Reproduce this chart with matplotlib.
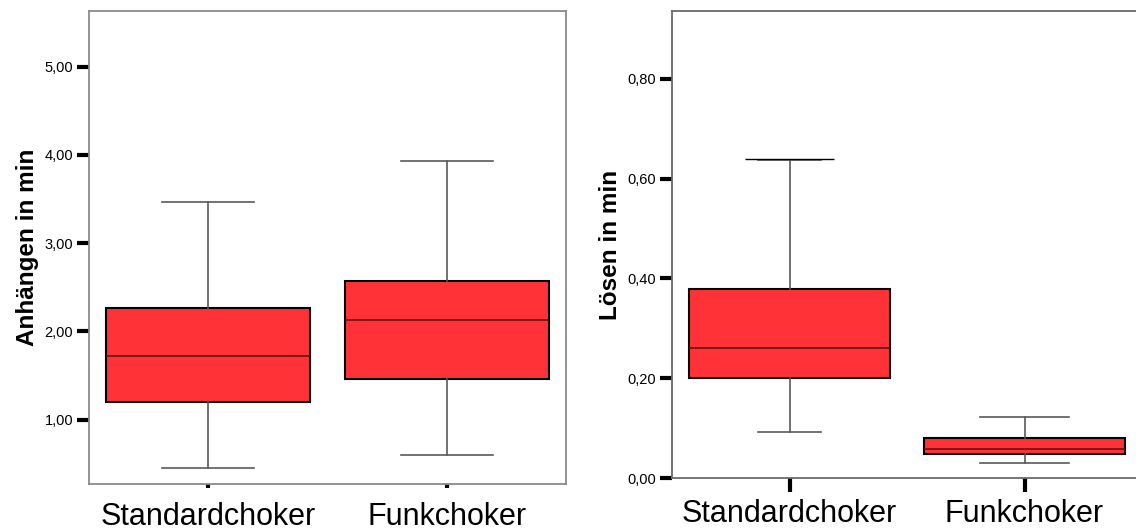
import numpy as np
import matplotlib
matplotlib.use('Agg')
import matplotlib.pyplot as plt
import matplotlib.ticker as ticker

plt.rcParams['font.family'] = ['Liberation Sans', 'DejaVu Sans']

categories = ['Standardchoker', 'Funkchoker']

# Anhängen (left panel)
anh_whislo = [0.455, 0.60]
anh_q1 = [1.20, 1.46]
anh_med = [1.72, 2.13]
anh_q3 = [2.26, 2.57]
anh_whishi = [3.465, 3.93]
anh_yticks = [1, 2, 3, 4, 5]

# Lösen (right panel)
los_whislo = [0.092, 0.030]
los_q1 = [0.200, 0.049]
los_med = [0.261, 0.059]
los_q3 = [0.379, 0.081]
los_whishi = [0.637, 0.122]
los_captop = [0.640, 0.122]
los_yticks = [0.0, 0.2, 0.4, 0.6, 0.8]

box_color = '#ff3337'
whisker_color = '#5a5a5a'

W, H = 1136, 531
fig = plt.figure(figsize=(W / 100, H / 100), dpi=100)

ax1 = fig.add_axes([89 / W, 1 - 484 / H, 477 / W, 473 / H])
ax2 = fig.add_axes([672 / W, 1 - 478 / H, 470 / W, 467 / H])


def comma_fmt(v, pos):
    return ('%.2f' % v).replace('.', ',')


def make_stats(lo, q1, med, q3, hi):
    stats = []
    for i in range(len(categories)):
        stats.append({'whislo': lo[i], 'q1': q1[i], 'med': med[i], 'q3': q3[i],
                      'whishi': hi[i], 'fliers': [], 'label': categories[i]})
    return stats


def draw(ax, stats, capwidths):
    ax.bxp(stats, positions=[1, 2], widths=0.855, patch_artist=True,
           showfliers=False, capwidths=capwidths,
           boxprops=dict(facecolor=box_color, edgecolor='black', linewidth=1.5),
           medianprops=dict(color='#6a1214', linewidth=1.2),
           whiskerprops=dict(color=whisker_color, linewidth=1.2),
           capprops=dict(color=whisker_color, linewidth=1.2))
    ax.set_xlim(0.5, 2.5)
    ax.yaxis.set_major_formatter(ticker.FuncFormatter(comma_fmt))
    ax.tick_params(axis='y', length=9, width=3, pad=2.5, labelsize=10.5)
    ax.set_xticks([1, 2], categories)
    for s in ax.spines.values():
        s.set_color('#8a8a8a')
        s.set_linewidth(1.3)


draw(ax1, make_stats(anh_whislo, anh_q1, anh_med, anh_q3, anh_whishi), [0.387, 0.387])
ax1.set_ylim(0.27, 5.63)
ax1.set_yticks(anh_yticks)
ax1.tick_params(axis='x', length=3, width=3, pad=10, labelsize=22)
ax1.set_ylabel('Anhängen in min', fontsize=17.5, fontweight='bold', labelpad=4)

draw(ax2, make_stats(los_whislo, los_q1, los_med, los_q3, los_whishi), [0.27, 0.38])
ax2.hlines(los_captop[0], 1 - 0.19, 1 + 0.19, color='black', linewidth=1.0)
ax2.set_ylim(0.0, 0.936)
ax2.set_yticks(los_yticks)
ax2.tick_params(axis='x', length=10, width=3, pad=5, labelsize=22)
ax2.set_ylabel('Lösen in min', fontsize=17.5, fontweight='bold', labelpad=4)
for s in ax2.spines.values():
    s.set_color('#6a6a6a')

fig.savefig('out.png', dpi=100)
